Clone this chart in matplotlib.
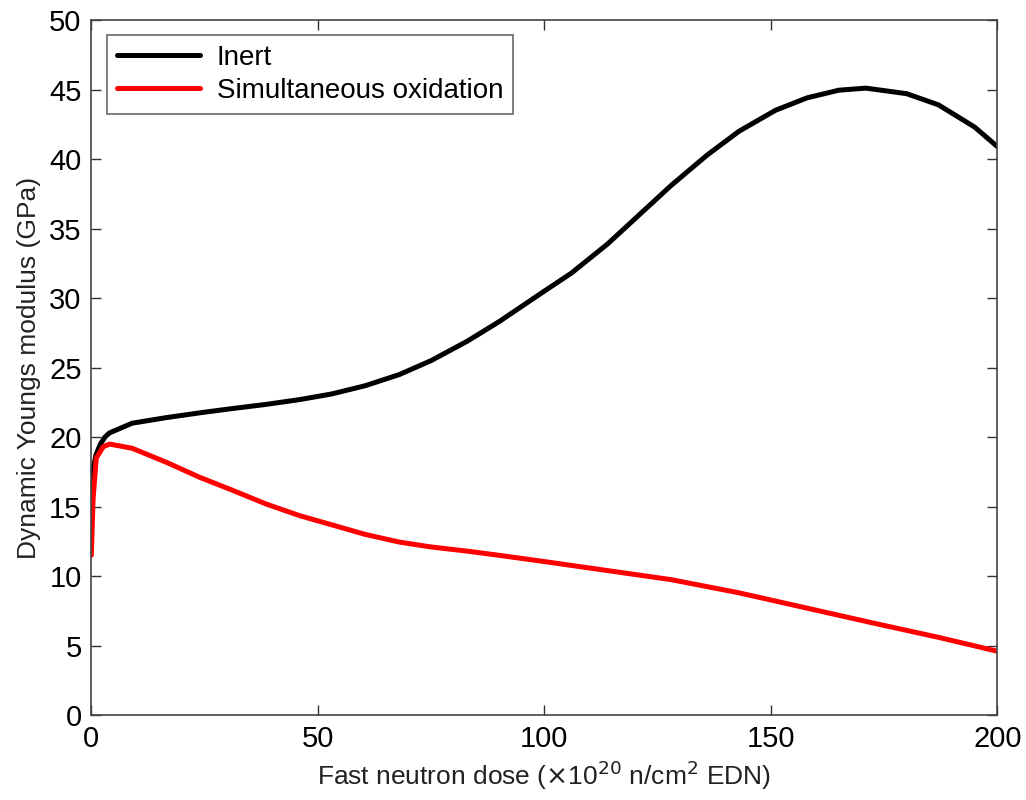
import matplotlib
matplotlib.use("Agg")
import matplotlib.pyplot as plt

plt.rcParams['font.family'] = ['Liberation Sans', 'DejaVu Sans']

dose_inert = [0, 0.5, 1, 2, 3, 4, 9, 16.5, 24, 31, 38.5, 46, 53, 60.5, 68, 75, 83, 90, 95,
              100, 106, 114, 121, 128, 136, 143, 151, 158, 165, 171, 180, 187, 195, 200]
inert = [16.0, 17.8, 18.7, 19.5, 20.0, 20.3, 21.0, 21.4, 21.75, 22.05, 22.35, 22.7, 23.1, 23.7,
         24.5, 25.5, 26.9, 28.3, 29.4, 30.5, 31.8, 33.9, 36.0, 38.1, 40.3, 42.0, 43.5, 44.4,
         44.95, 45.1, 44.7, 43.9, 42.3, 40.9]

dose_ox = [0, 0.4, 1.1, 2.6, 4, 9, 16.5, 24, 31, 38.5, 46, 53, 60.5, 68, 75, 83, 90,
           100, 114, 128, 143, 158, 173, 187, 200]
oxid = [11.5, 15.6, 18.5, 19.3, 19.5, 19.2, 18.2, 17.1, 16.2, 15.2, 14.35, 13.7, 13.0, 12.45,
        12.1, 11.8, 11.5, 11.05, 10.4, 9.75, 8.8, 7.7, 6.6, 5.6, 4.6]

xticks = [0, 50, 100, 150, 200]
yticks = [0, 5, 10, 15, 20, 25, 30, 35, 40, 45, 50]

fig = plt.figure(figsize=(10.26, 8), dpi=100)
ax = fig.add_axes([0.089, 0.106, 0.883, 0.869])

ax.plot(dose_inert, inert, color='black', lw=3.6, label='Inert',
        solid_joinstyle='round', solid_capstyle='round')
ax.plot(dose_ox, oxid, color='#ff0000', lw=3.6, label='Simultaneous oxidation',
        solid_joinstyle='round', solid_capstyle='round')

ax.set_xlim(0, 200)
ax.set_ylim(0, 50)
ax.set_xticks(xticks)
ax.set_yticks(yticks)
ax.tick_params(direction='in', top=True, right=True, length=7, width=1.0,
               labelsize=21, color='#333333', pad=7)
for s in ax.spines.values():
    s.set_color('#444444')
    s.set_linewidth(1.2)

ax.set_xlabel(r'Fast neutron dose ($\times$10$^{20}$ n/cm$^{2}$ EDN)', fontsize=19,
              labelpad=4, color='#222222')
ax.set_ylabel('Dynamic Youngs modulus (GPa)', fontsize=19, labelpad=6, color='#222222')

leg = ax.legend(loc='upper left', fontsize=20, frameon=True, fancybox=False,
                edgecolor='#444444', handlelength=3.0, borderpad=0.35,
                labelspacing=0.25, handletextpad=0.6, bbox_to_anchor=(0.002, 0.998))
leg.get_frame().set_linewidth(1.2)

fig.savefig('out.png', dpi=100, facecolor='white')
